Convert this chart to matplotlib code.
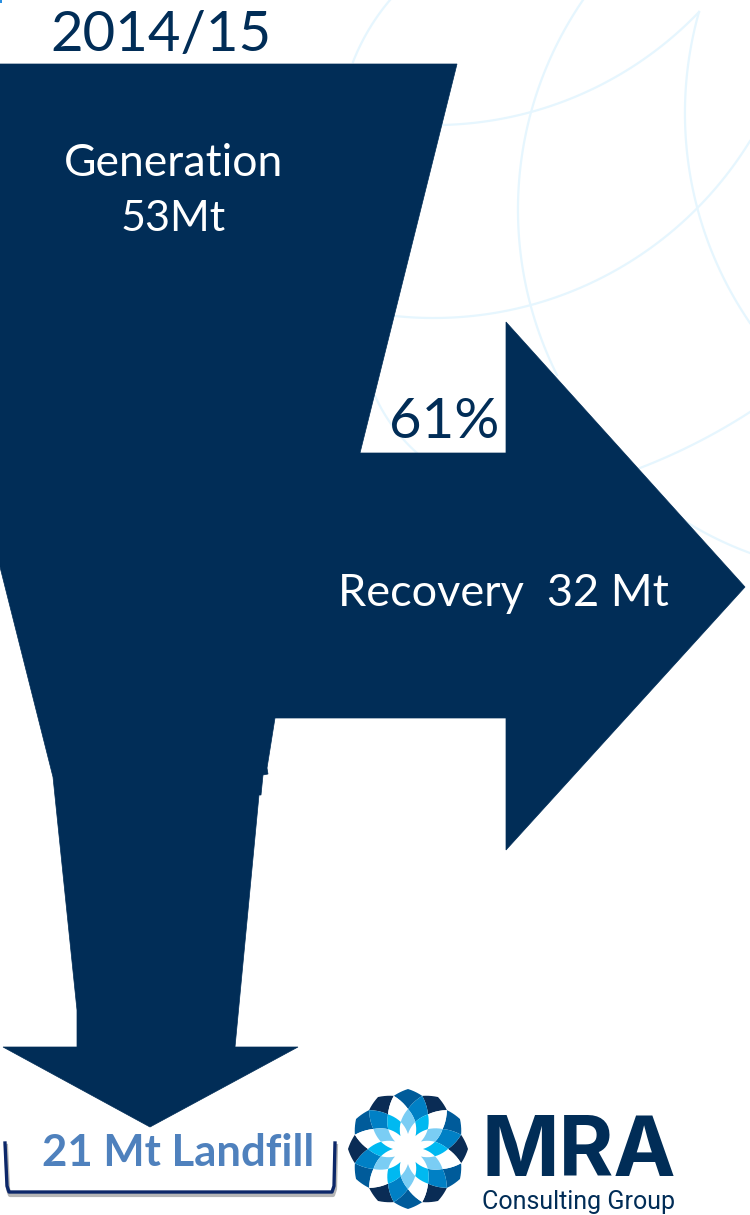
# %%
import numpy as np
from matplotlib import pyplot as plt
from matplotlib.patches import Polygon

navy = '#012d57'
arc_col = '#e6f6fe'

flow_x = [0, 457, 360, 506, 506, 745, 506, 506, 275, 267, 268, 263, 261, 259, 235, 298, 150, 3, 77, 77, 53, 0]
flow_y = [64, 64, 453, 453, 322, 587, 850, 718, 718, 768, 774, 775, 795, 795, 1047, 1047, 1127, 1047, 1047, 1010, 777, 567]

labels = ['2014/15', 'Generation', '53Mt', '61%', 'Recovery  32 Mt', '21 Mt Landfill']
label_x = [161, 173.5, 173.5, 444, 503.5, 178.5]
label_y = [35, 164, 219, 422, 594, 1153]
label_size = [40.5, 32, 31, 40.5, 32.5, 31.5]
label_col = [navy, 'white', 'white', navy, 'white', '#4f81bd']
label_weight = ['normal', 'normal', 'normal', 'normal', 'normal', 'bold']

# start, a point on the way, end of each background arc
arcs = [
    [(353, 62), (368, 31), (390, 0)],
    [(441, 125), (531, 112), (699, 12)],
    [(699, 12), (685, 107), (750, 323)],
    [(583, 0), (518, 214), (557, 375)],
    [(395, 316), (531, 305), (750, 141)],
    [(640, 468), (700, 441), (750, 412)],
    [(683, 520), (715, 538), (750, 553)],
    [(375, 396), (394, 428), (417, 453)],
]


def circle_arc(p0, p1, p2, n=80):
    (x0, y0), (x1, y1), (x2, y2) = p0, p1, p2
    d = 2 * (x0 * (y1 - y2) + x1 * (y2 - y0) + x2 * (y0 - y1))
    ux = ((x0**2 + y0**2) * (y1 - y2) + (x1**2 + y1**2) * (y2 - y0) + (x2**2 + y2**2) * (y0 - y1)) / d
    uy = ((x0**2 + y0**2) * (x2 - x1) + (x1**2 + y1**2) * (x0 - x2) + (x2**2 + y2**2) * (x1 - x0)) / d
    r = np.hypot(x0 - ux, y0 - uy)
    t0 = np.arctan2(y0 - uy, x0 - ux)
    t1 = t0 + (np.arctan2(y1 - uy, x1 - ux) - t0 + np.pi) % (2 * np.pi) - np.pi
    t2 = t1 + (np.arctan2(y2 - uy, x2 - ux) - t1 + np.pi) % (2 * np.pi) - np.pi
    t = np.linspace(t0, t2, n)
    return ux + r * np.cos(t), uy + r * np.sin(t)


# %%
fig = plt.figure(figsize=(7.5, 12.15), dpi=100)
ax = fig.add_axes([0, 0, 1, 1])
ax.set_xlim(0, 750)
ax.set_ylim(1215, 0)
ax.axis('off')

for p0, p1, p2 in arcs:
    ax.plot(*circle_arc(p0, p1, p2), color=arc_col, lw=1.6, zorder=1)

ax.add_patch(Polygon([(0, 0), (2, 0), (2, 3), (0, 3)], fc='#2a8fe0', ec='none', zorder=1))
ax.add_patch(Polygon(np.column_stack([flow_x, flow_y]), fc=navy, ec=navy, lw=0.5, zorder=2))

for txt, x, y, s, c, w in zip(labels, label_x, label_y, label_size, label_col, label_weight):
    ax.text(x, y, txt, fontsize=s, color=c, weight=w, family='Lato', ha='center', va='center', zorder=3)

# %% landfill bracket
br_x = [5, 7, 9, 332, 334, 335]
br_y = [1143, 1186, 1192, 1192, 1186, 1143]
ax.plot(np.array(br_x) + 1, np.array(br_y) + 3, color='#b5b5b5', lw=3, zorder=1.5)
ax.plot(br_x, br_y, color='#0c2769', lw=2.4, zorder=2)

# %% logo rosette
cx, cy = 408, 1149
ring_r = [60, 55, 40, 28, 15]
level_cols = [
    ['#005b9a', '#0a2c55'],
    ['#0080c5', 'white'],
    ['#7acdf4', '#00b9f1'],
]
for lev, cols in enumerate(level_cols):
    for k in range(12):
        ang = k * 30 + (15 if lev == 1 else 0)
        corners = [(0, ring_r[lev]), (15, ring_r[lev + 1]), (0, ring_r[lev + 2]), (-15, ring_r[lev + 1]), (0, ring_r[lev])]
        pts = []
        for (a0, r0), (a1, r1) in zip(corners[:-1], corners[1:]):
            for f in np.linspace(0, 1, 6):
                t = np.radians(ang + a0 + (a1 - a0) * f)
                r = r0 + (r1 - r0) * f
                pts.append((cx + r * np.sin(t), cy - r * np.cos(t)))
        ax.add_patch(Polygon(pts, fc=cols[k % 2], ec='none', zorder=2))

ax.text(578.5, 1154, 'MRA', fontsize=60, weight='bold', color=navy, family='Inter', ha='center', va='center', zorder=3)
ax.text(579, 1202, 'Consulting Group', fontsize=18, color=navy, family='Roboto', ha='center', va='center', zorder=3)

fig.savefig('out.png', dpi=100, facecolor='white')
